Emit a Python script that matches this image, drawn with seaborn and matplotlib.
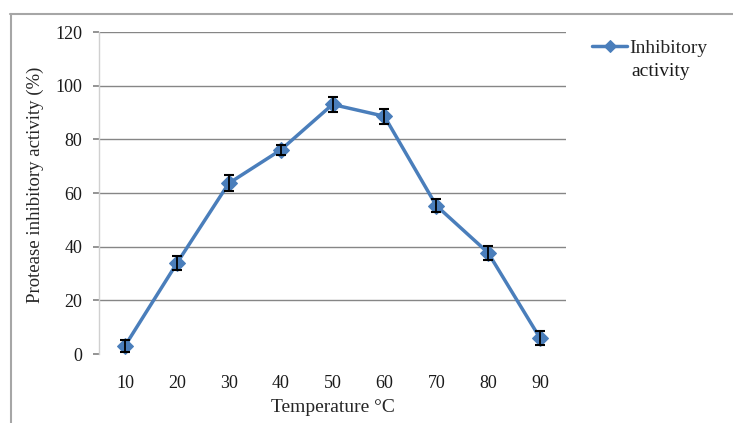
import pandas as pd
import matplotlib.pyplot as plt
import matplotlib.lines as mlines
import seaborn as sns


# ==========================
# DADOS
# ==========================

temperaturas = [10, 20, 30, 40, 50, 60, 70, 80, 90]
atividade = [3.0, 33.8, 63.6, 76.0, 93.0, 88.6, 55.3, 37.7, 5.9]
erro = [2.2, 2.6, 3.0, 2.0, 2.8, 2.7, 2.4, 2.5, 2.5]

df = pd.DataFrame({
    'Temperatura': temperaturas,
    'Atividade': atividade,
    'Erro': erro,
})


# ==========================
# CONFIGURAÇÕES
# ==========================

sns.set_theme(style='white')
plt.rcParams['font.family'] = ['Liberation Serif', 'DejaVu Serif']

cor = '#4A7EBB'

fig = plt.figure(figsize=(7.33, 4.23), dpi=100)
ax = fig.add_axes([99 / 733, 1 - 354 / 423, 467 / 733, 322 / 423])

# moldura cortada do gráfico original
fig.add_artist(mlines.Line2D([10.5 / 733, 10.5 / 733], [0, 1 - 14 / 423],
                             transform=fig.transFigure, color='#A6A6A6', lw=1.5))
fig.add_artist(mlines.Line2D([10 / 733, 1], [1 - 14.5 / 423, 1 - 14.5 / 423],
                             transform=fig.transFigure, color='#A6A6A6', lw=1.5))


# ==========================
# GRÁFICO
# ==========================

sns.lineplot(
    x='Temperatura',
    y='Atividade',
    data=df,
    color=cor,
    marker='D',
    markersize=8,
    markeredgecolor=cor,
    linewidth=2.5,
    label='Inhibitory',
    ax=ax,
)

ax.errorbar(
    df['Temperatura'],
    df['Atividade'],
    yerr=df['Erro'],
    fmt='none',
    ecolor='black',
    elinewidth=1.3,
    capsize=3.5,
    capthick=1.5,
    zorder=3,
)

ax.set_xlim(5, 95)
ax.set_ylim(0, 120)
ax.set_xticks(temperaturas)
ax.set_yticks(range(0, 121, 20))

for y in range(20, 121, 20):
    ax.axhline(y, color='#868686', lw=1, zorder=0)

for lado in ['top', 'right', 'bottom']:
    ax.spines[lado].set_visible(False)
ax.spines['left'].set_color('#D0D0D0')
ax.spines['left'].set_linewidth(1)

ax.tick_params(axis='y', left=True, length=4, color='#868686',
               pad=8, labelsize=13, labelcolor='#1a1a1a')
ax.tick_params(axis='x', bottom=False, pad=9, labelsize=13,
               labelcolor='#1a1a1a')

ax.set_xlabel('Temperature °C', fontsize=14, labelpad=5)
ax.set_ylabel('Protease inhibitory activity (%)', fontsize=13.5)
ax.yaxis.set_label_coords(-0.118, 0.525)

leg = ax.legend(
    loc='upper left',
    bbox_to_anchor=(592 / 733, 1 - 39 / 423),
    bbox_transform=fig.transFigure,
    frameon=False,
    fontsize=14,
    handlelength=1.8,
    handletextpad=0.1,
    borderpad=0,
    borderaxespad=0,
)
for h in leg.legend_handles:
    h.set_markersize(6)

fig.text(631 / 733, 1 - 71 / 423, 'activity', fontsize=14,
         va='center', ha='left', color='#1a1a1a')

plt.savefig('out.png', dpi=100)
plt.close()
